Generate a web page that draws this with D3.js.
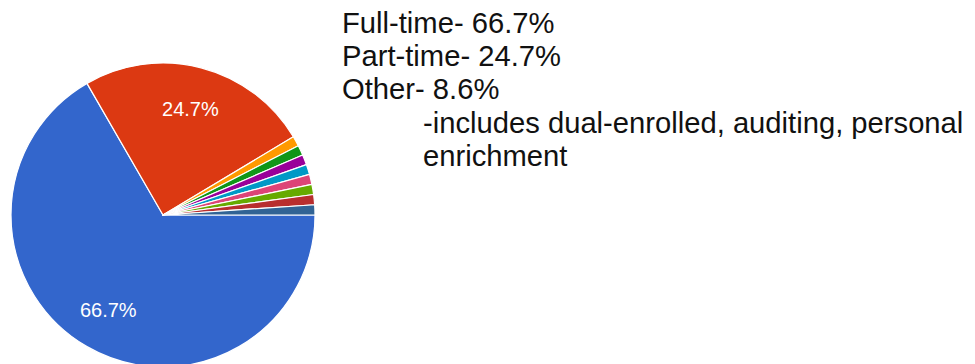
<!DOCTYPE html>
<html>
<head>
<meta charset="utf-8">
<script src="https://cdn.jsdelivr.net/npm/d3@7"></script>
<style>
  html, body { margin: 0; padding: 0; background: #fff; }
  svg { display: block; }
</style>
</head>
<body>
<svg id="chart" width="975" height="364"></svg>
<script>
// Enrollment status responses (counts), drawn clockwise from 3 o'clock
const categories = ["Full-time", "Part-time", "Other 1", "Other 2", "Other 3", "Other 4",
                    "Other 5", "Other 6", "Other 7", "Other 8"];
const counts = [62, 23, 1, 1, 1, 1, 1, 1, 1, 1];
const sliceColors = ["#3366cc", "#dc3912", "#ff9900", "#109618", "#990099", "#0099c6",
                     "#dd4477", "#66aa00", "#b82e2e", "#316395"];
const sliceLabels = ["66.7%", "24.7%", "", "", "", "", "", "", "", ""];

// Text notes beside the pie
const noteLines = [
  { text: "Full-time- 66.7%", indent: 0 },
  { text: "Part-time- 24.7%", indent: 0 },
  { text: "Other- 8.6%", indent: 0 },
  { text: "-includes dual-enrolled, auditing, personal", indent: 1 },
  { text: "enrichment", indent: 1 }
];

const svg = d3.select("#chart");
const cx = 163, cy = 215, radius = 152;

const data = categories.map((c, i) => ({ name: c, value: counts[i], color: sliceColors[i], label: sliceLabels[i] }));

const pie = d3.pie()
  .value(d => d.value)
  .sort(null)
  .startAngle(Math.PI / 2)
  .endAngle(Math.PI / 2 + 2 * Math.PI);

const arc = d3.arc().innerRadius(0).outerRadius(radius);
const labelArc = d3.arc().innerRadius(radius * 0.72).outerRadius(radius * 0.72);

const g = svg.append("g").attr("transform", `translate(${cx},${cy})`);
const arcs = pie(data);

g.selectAll("path")
  .data(arcs)
  .join("path")
  .attr("d", arc)
  .attr("fill", d => d.data.color)
  .attr("stroke", "#fff")
  .attr("stroke-width", 1.2)
  .attr("stroke-linejoin", "round");

g.selectAll("text.slice-label")
  .data(arcs.filter(d => d.data.label))
  .join("text")
  .attr("class", "slice-label")
  .attr("transform", d => `translate(${labelArc.centroid(d)})`)
  .attr("text-anchor", "middle")
  .attr("dy", "0.36em")
  .attr("fill", "#fff")
  .style("font-family", "'Liberation Sans', Arial, sans-serif")
  .style("font-size", "20px")
  .text(d => d.data.label);

// Notes
const notes = svg.append("g")
  .style("font-family", "'Liberation Sans', Arial, sans-serif")
  .style("font-size", "29.2px")
  .attr("fill", "#111");

notes.selectAll("text")
  .data(noteLines)
  .join("text")
  .attr("x", d => d.indent ? 423 : 342)
  .attr("y", (d, i) => 32.5 + i * 33.4)
  .text(d => d.text);
</script>
</body>
</html>
